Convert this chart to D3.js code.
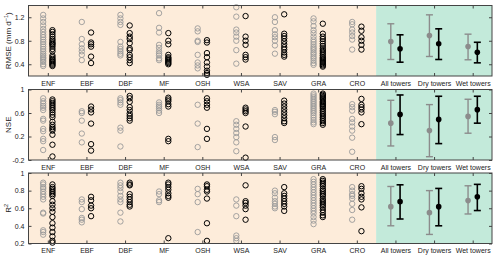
<!DOCTYPE html>
<html>
<head>
<meta charset="utf-8">
<script src="https://cdn.jsdelivr.net/npm/d3@7"></script>
<style>
  body { margin: 0; background: #fff; }
  svg { display: block; font-family: "Liberation Sans", Arial, sans-serif; }
</style>
</head>
<body>
<div id="chart"></div>
<script>
"use strict";

/* DATA */

// categories along the x axis (9 PFTs + 3 tower groups)
let pfts = ["ENF", "EBF", "DBF", "MF", "OSH", "WSA", "SAV", "GRA", "CRO"];
let groups = ["All towers", "Dry towers", "Wet towers"];

// RMSE per site, gray = first model, black = second model
let rmseGray = [
    [1.24, 1.18, 1.12, 1.06, 1.0, 0.95, 0.9, 0.86, 0.82, 0.78, 0.74, 0.7, 0.66, 0.62, 0.58, 0.55, 0.52, 0.5, 0.47, 0.44, 0.4, 0.37],
    [1.12, 0.83, 0.74, 0.67, 0.62, 0.56, 0.47],
    [1.24, 1.18, 1.12, 1.07, 0.78, 0.7, 0.66, 0.62, 0.58, 0.55],
    [1.27, 1.02, 0.94, 0.73, 0.68, 0.62, 0.58, 0.55, 0.5, 0.47],
    [1.01, 0.96, 0.8, 0.78, 0.56, 0.43, 0.38, 0.33],
    [1.37, 1.21, 0.99, 0.94, 0.87, 0.8, 0.64, 0.41],
    [1.2, 1.12, 0.98, 0.91, 0.86, 0.8, 0.72, 0.58],
    [1.18, 1.13, 1.05, 0.98, 0.93, 0.87, 0.82, 0.78, 0.74, 0.7, 0.67, 0.64, 0.6, 0.57, 0.53, 0.5, 0.46, 0.42, 0.39],
    [1.12, 1.08, 0.99, 0.94, 0.88, 0.82, 0.65]
];
let rmseBlack = [
    [0.98, 0.95, 0.91, 0.87, 0.83, 0.8, 0.77, 0.75, 0.73, 0.7, 0.66, 0.62, 0.55, 0.52, 0.49, 0.47, 0.45, 0.43, 0.41, 0.39, 0.37],
    [0.94, 0.77, 0.74, 0.7, 0.53, 0.42],
    [1.06, 0.93, 0.87, 0.83, 0.76, 0.67, 0.64, 0.56, 0.52, 0.47, 0.42],
    [0.93, 0.8, 0.74, 0.56, 0.52, 0.5, 0.48, 0.46, 0.44, 0.42, 0.4],
    [0.81, 0.77, 0.59, 0.52, 0.43, 0.36, 0.29, 0.25, 0.22],
    [1.22, 0.87, 0.8, 0.73, 0.56, 0.52, 0.48],
    [1.25, 0.92, 0.88, 0.84, 0.79, 0.74, 0.69, 0.65, 0.6, 0.56, 0.53],
    [1.09, 0.92, 0.87, 0.83, 0.79, 0.75, 0.71, 0.67, 0.64, 0.61, 0.58, 0.55, 0.52, 0.5, 0.48, 0.46, 0.44, 0.42, 0.4, 0.38, 0.36],
    [1.04, 0.97, 0.86, 0.8, 0.73, 0.65]
];

// NSE per site
let nseGray = [
    [0.85, 0.8, 0.76, 0.72, 0.69, 0.65, 0.5, 0.47, 0.33, 0.29, 0.16, 0.12, -0.03],
    [0.63, 0.6, 0.47, 0.25, 0.1],
    [0.85, 0.82, 0.78, 0.74, 0.35, 0.3, 0.03],
    [0.78, 0.74, 0.71, 0.68, 0.64, 0.6],
    [0.74, 0.42, 0.02],
    [0.46, 0.4, 0.33, 0.26, 0.19, 0.1, -0.05],
    [0.65, 0.62, 0.58, 0.19, 0.14],
    [0.93, 0.9, 0.87, 0.84, 0.81, 0.78, 0.75, 0.72, 0.69, 0.66, 0.63, 0.6, 0.56, 0.52, 0.48, 0.44, 0.41],
    [0.75, 0.7, 0.64, 0.5, 0.44, 0.37, 0.3, 0.18, -0.06]
];
let nseBlack = [
    [0.83, 0.8, 0.77, 0.74, 0.71, 0.68, 0.65, 0.61, 0.57, 0.53, 0.45, 0.4, 0.36, 0.33, 0.3, 0.23, 0.06, -0.14],
    [0.71, 0.66, 0.61, 0.42, 0.07, -0.04],
    [0.89, 0.85, 0.79, 0.7, 0.65, 0.59, 0.55, 0.51, 0.47],
    [0.86, 0.83, 0.8, 0.75, 0.71, 0.16, 0.12],
    [0.85, 0.8, 0.74, 0.69, 0.33, 0.16],
    [0.69, 0.66, 0.63, 0.6, 0.37, -0.16],
    [0.81, 0.76, 0.71, 0.66, 0.61, 0.56, 0.51, 0.46, 0.43],
    [0.93, 0.91, 0.89, 0.87, 0.85, 0.83, 0.8, 0.78, 0.76, 0.74, 0.72, 0.7, 0.67, 0.64, 0.61, 0.58, 0.55, 0.52, 0.49, 0.46, 0.43, 0.4],
    [0.84, 0.74, 0.7, 0.66, 0.61, 0.41]
];

// R2 per site
let r2Gray = [
    [0.89, 0.87, 0.84, 0.82, 0.79, 0.76, 0.73, 0.7, 0.55, 0.54, 0.35, 0.33, 0.3],
    [0.7, 0.67, 0.59, 0.49, 0.47, 0.44],
    [0.89, 0.86, 0.83, 0.79, 0.74, 0.7, 0.67, 0.55, 0.45],
    [0.79, 0.76, 0.69, 0.67],
    [0.82, 0.76, 0.67, 0.33],
    [0.7, 0.63, 0.51, 0.29, 0.26, 0.23],
    [0.8, 0.77, 0.72, 0.68, 0.65, 0.62, 0.6],
    [0.93, 0.9, 0.87, 0.84, 0.81, 0.78, 0.75, 0.72, 0.69, 0.66, 0.63, 0.6, 0.57, 0.54, 0.5, 0.46, 0.42],
    [0.84, 0.8, 0.76, 0.74, 0.71, 0.65, 0.58, 0.47]
];
let r2Black = [
    [0.87, 0.84, 0.82, 0.8, 0.78, 0.76, 0.74, 0.68, 0.64, 0.6, 0.56, 0.5, 0.43, 0.38, 0.33, 0.28, 0.23, 0.21],
    [0.73, 0.69, 0.63, 0.6, 0.51],
    [0.89, 0.87, 0.86, 0.76, 0.73, 0.7, 0.67, 0.64, 0.62],
    [0.89, 0.87, 0.84, 0.81, 0.77, 0.74, 0.72, 0.26],
    [0.87, 0.85, 0.81, 0.79, 0.71, 0.43, 0.23],
    [0.86, 0.68, 0.66, 0.63, 0.59, 0.47],
    [0.84, 0.77, 0.74, 0.71, 0.68, 0.65, 0.62, 0.57],
    [0.93, 0.91, 0.89, 0.87, 0.85, 0.82, 0.8, 0.78, 0.76, 0.74, 0.71, 0.69, 0.67, 0.65, 0.63, 0.61, 0.58, 0.55, 0.52, 0.5],
    [0.85, 0.82, 0.77, 0.73, 0.7, 0.61, 0.34]
];

// error bars per tower group: [mean, lower, upper]
let rmseBarsGray = [[0.787, 0.481, 1.089], [0.889, 0.532, 1.241], [0.702, 0.476, 0.912]];
let rmseBarsBlack = [[0.663, 0.435, 0.901], [0.748, 0.481, 1.003], [0.605, 0.424, 0.774]];
let nseBarsGray = [[0.427, 0.039, 0.816], [0.302, -0.144, 0.743], [0.542, 0.256, 0.834]];
let nseBarsBlack = [[0.576, 0.233, 0.907], [0.491, 0.079, 0.885], [0.657, 0.427, 0.885]];
let r2BarsGray = [[0.618, 0.401, 0.847], [0.55, 0.303, 0.80], [0.687, 0.535, 0.855]];
let r2BarsBlack = [[0.675, 0.478, 0.866], [0.618, 0.401, 0.825], [0.73, 0.574, 0.871]];

// y axis ticks per panel
let rmseTicks = [0.4, 0.8, 1.2];
let nseTicks = [-0.2, 0.2, 0.6, 1];
let r2Ticks = [0.2, 0.4, 0.6, 0.8, 1];


/* SVG SETUP */

let svgWidth = 500;
let svgHeight = 260;

let svg = d3.select("#chart")
    .append("svg")
    .attr("width", svgWidth)
    .attr("height", svgHeight);

let left = 28.5;
let right = 492;
let panelHeight = 70.5;

let allCategories = pfts.concat(groups);

// x scale: one unit per category
let xScale = d3.scaleLinear()
    .domain([0.5, allCategories.length + 0.5])
    .range([left, right]);

let offset = 0.12; // gray left, black right of the category centre

let panels = [
    { top: 5.5, domain: [0.2, 1.4], ticks: rmseTicks, gray: rmseGray, black: rmseBlack, barsGray: rmseBarsGray, barsBlack: rmseBarsBlack, label: "rmse" },
    { top: 89.5, domain: [-0.2, 1], ticks: nseTicks, gray: nseGray, black: nseBlack, barsGray: nseBarsGray, barsBlack: nseBarsBlack, label: "nse" },
    { top: 173, domain: [0.2, 1], ticks: r2Ticks, gray: r2Gray, black: r2Black, barsGray: r2BarsGray, barsBlack: r2BarsBlack, label: "r2" }
];

panels.forEach(drawPanel);


/* DRAW ONE PANEL */

function drawPanel(p) {
    let top = p.top;
    let bottom = top + panelHeight;

    let yScale = d3.scaleLinear()
        .domain(p.domain)
        .range([bottom, top]);

    let g = svg.append("g");

    // background shading: PFTs peach, tower groups mint
    g.append("rect")
        .attr("x", xScale(0.5))
        .attr("y", top)
        .attr("width", xScale(pfts.length + 0.5) - xScale(0.5))
        .attr("height", panelHeight)
        .attr("fill", "#fdecda");

    g.append("rect")
        .attr("x", xScale(pfts.length + 0.5))
        .attr("y", top)
        .attr("width", xScale(allCategories.length + 0.5) - xScale(pfts.length + 0.5))
        .attr("height", panelHeight)
        .attr("fill", "#c3eada");

    // scatter circles per PFT
    for (let i = 0; i < pfts.length; i++) {
        p.gray[i].forEach(function (v) {
            g.append("circle")
                .attr("cx", xScale(i + 1 - offset))
                .attr("cy", yScale(v))
                .attr("r", 2.7)
                .attr("fill", "none")
                .attr("stroke", "#9a9a9a")
                .attr("stroke-width", 0.9);
        });
        p.black[i].forEach(function (v) {
            g.append("circle")
                .attr("cx", xScale(i + 1 + offset))
                .attr("cy", yScale(v))
                .attr("r", 2.7)
                .attr("fill", "none")
                .attr("stroke", "#000")
                .attr("stroke-width", 1);
        });
    }

    // error bars per tower group
    for (let j = 0; j < groups.length; j++) {
        let c = pfts.length + j + 1;
        drawBar(g, xScale(c - offset), p.barsGray[j], yScale, "#8c8c8c");
        drawBar(g, xScale(c + offset), p.barsBlack[j], yScale, "#000");
    }

    // axes with inward ticks
    let xTicks = d3.range(1, allCategories.length + 1);

    let bottomAxis = g.append("g")
        .attr("transform", "translate(0," + bottom + ")")
        .call(d3.axisBottom(xScale)
            .tickValues(xTicks)
            .tickFormat(function (d) { return allCategories[d - 1]; })
            .tickSizeInner(-3)
            .tickSizeOuter(0)
            .tickPadding(5));

    let topAxis = g.append("g")
        .attr("transform", "translate(0," + top + ")")
        .call(d3.axisTop(xScale)
            .tickValues(xTicks)
            .tickFormat("")
            .tickSizeInner(-3)
            .tickSizeOuter(0));

    let leftAxis = g.append("g")
        .attr("transform", "translate(" + left + ",0)")
        .call(d3.axisLeft(yScale)
            .tickValues(p.ticks)
            .tickFormat(function (d) { return String(d); })
            .tickSizeInner(-3)
            .tickSizeOuter(0)
            .tickPadding(4));

    let rightAxis = g.append("g")
        .attr("transform", "translate(" + right + ",0)")
        .call(d3.axisRight(yScale)
            .tickValues(p.ticks)
            .tickFormat("")
            .tickSizeInner(-3)
            .tickSizeOuter(0));

    [bottomAxis, topAxis, leftAxis, rightAxis].forEach(function (a) {
        a.select(".domain").remove();
        a.selectAll("line").attr("stroke", "#444");
        a.selectAll("text")
            .attr("fill", "#222")
            .style("font-size", "7px")
            .style("font-family", "'Liberation Sans', Arial, sans-serif");
    });

    // frame
    g.append("rect")
        .attr("x", left)
        .attr("y", top)
        .attr("width", right - left)
        .attr("height", panelHeight)
        .attr("fill", "none")
        .attr("stroke", "#444")
        .attr("stroke-width", 1);

    // y axis title (rotated)
    let title = g.append("text")
        .attr("transform", "translate(11," + (top + panelHeight / 2) + ") rotate(-90)")
        .attr("text-anchor", "middle")
        .attr("fill", "#222")
        .style("font-size", "8px");

    if (p.label === "rmse") {
        title.append("tspan").text("RMSE (mm d");
        title.append("tspan").attr("dy", -3).style("font-size", "5.5px").text("−1");
        title.append("tspan").attr("dy", 3).text(")");
    } else if (p.label === "nse") {
        title.text("NSE");
    } else {
        title.append("tspan").text("R");
        title.append("tspan").attr("dy", -3).style("font-size", "5.5px").text("2");
    }
}


/* ERROR BAR */

// vertical whisker with caps and a filled mean dot
function drawBar(g, cx, d, yScale, color) {
    let wide = color === "#000" ? 1.6 : 1.4;

    g.append("line")
        .attr("x1", cx).attr("x2", cx)
        .attr("y1", yScale(d[1])).attr("y2", yScale(d[2]))
        .attr("stroke", color)
        .attr("stroke-width", wide);

    [d[1], d[2]].forEach(function (v) {
        g.append("line")
            .attr("x1", cx - 3.5).attr("x2", cx + 3.5)
            .attr("y1", yScale(v)).attr("y2", yScale(v))
            .attr("stroke", color)
            .attr("stroke-width", wide);
    });

    g.append("circle")
        .attr("cx", cx)
        .attr("cy", yScale(d[0]))
        .attr("r", 2.8)
        .attr("fill", color);
}
</script>
</body>
</html>
